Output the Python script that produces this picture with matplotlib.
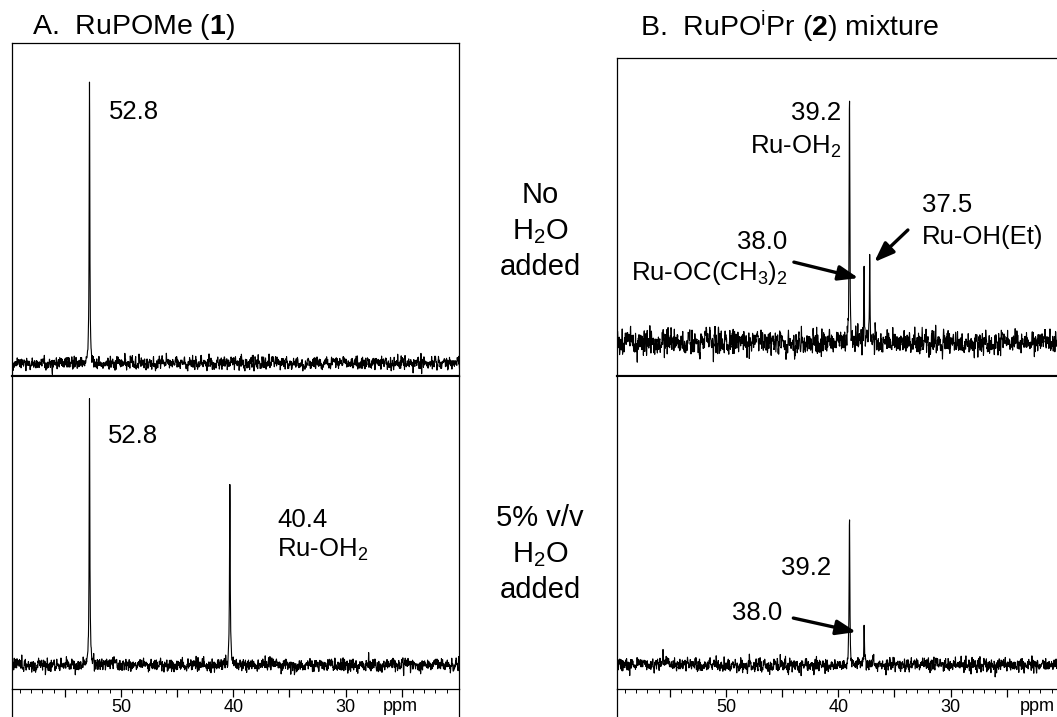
import numpy as np
import matplotlib
matplotlib.use("Agg")
import matplotlib.pyplot as plt

plt.rcParams['font.family'] = ['Liberation Sans', 'DejaVu Sans']
plt.rcParams['mathtext.fontset'] = 'custom'
plt.rcParams['mathtext.rm'] = 'Liberation Sans'
plt.rcParams['mathtext.it'] = 'Liberation Sans:italic'
plt.rcParams['mathtext.bf'] = 'Liberation Sans:bold'

# peak positions (ppm) and relative heights (tallest = 100) for each spectrum
a_dry_ppm = [52.8]
a_dry_height = [100]
a_wet_ppm = [52.8, 40.3]
a_wet_height = [100, 71]
b_dry_ppm = [39.0, 37.7, 37.2]
b_dry_height = [100, 31, 31]
b_wet_ppm = [39.0, 37.7, 55.6]
b_wet_height = [100, 25, 12]

# baseline noise level of each trace (same units as heights)
noise_level = {'a_dry': 1.1, 'a_wet': 1.2, 'b_dry': 2.4, 'b_wet': 2.2}

major_ticks = [55, 50, 45, 40, 35, 30, 25]
tick_labels = ['', '50', '', '40', '', '30', '']

W, H = 1057, 717
fig = plt.figure(figsize=(W / 100, H / 100), dpi=100)


def px_axes(x0, y0, x1, y1):
    return fig.add_axes([x0 / W, 1 - y1 / H, (x1 - x0) / W, (y1 - y0) / H])


ppm = np.linspace(60, 19.5, 2600)
rng = np.random.default_rng(7)


def trace(centers, heights, noise):
    y = np.zeros_like(ppm)
    for c, h in zip(centers, heights):
        y += h / (1 + ((ppm - c) / 0.035) ** 2)
    n = rng.normal(0, noise, ppm.size)
    n = np.convolve(n, [0.25, 0.5, 0.25], mode='same') * 1.6
    return y + n


def style(ax, ylim, bottom_axis=False):
    ax.set_xlim(59.7, 19.9)
    ax.set_ylim(*ylim)
    ax.set_yticks([])
    for s in ax.spines.values():
        s.set_linewidth(0.9)
    if bottom_axis:
        ax.set_xticks(major_ticks)
        ax.set_xticklabels(tick_labels, fontsize=13)
        ax.set_xticks(np.arange(21, 60, 1), minor=True)
        ax.tick_params(axis='x', which='major', direction='out', length=6, width=0.9, pad=1)
        ax.tick_params(axis='x', which='minor', direction='out', length=3, width=0.7)
        ax.spines['top'].set_linewidth(1.5)
    else:
        ax.set_xticks([])
        ax.spines['bottom'].set_linewidth(1.5)


def stub(x0, x1):
    ax = px_axes(x0, 689, x1, 730)
    ax.set_xticks([])
    ax.set_yticks([])
    ax.patch.set_alpha(0)
    ax.spines['top'].set_visible(False)
    ax.spines['bottom'].set_visible(False)
    for s in ('left', 'right'):
        ax.spines[s].set_linewidth(0.9)


lw = 0.8
fs = 18.5

# ---- A panel ----
ax1 = px_axes(12, 43, 459, 376)
ax1.plot(ppm, trace(a_dry_ppm, a_dry_height, noise_level['a_dry']), color='black', lw=lw)
style(ax1, (-4.5, 111.5))
ax1.text(51.07, 87.5, '52.8', fontsize=fs, va='center', ha='left')

ax2 = px_axes(12, 376, 459, 689)
ax2.plot(ppm, trace(a_wet_ppm, a_wet_height, noise_level['a_wet']), color='black', lw=lw)
style(ax2, (-9.2, 110.3), bottom_axis=True)
ax2.text(51.16, 87.4, '52.8', fontsize=fs, va='center', ha='left')
ax2.text(36.1, 55.3, '40.4', fontsize=fs, va='center', ha='left')
ax2.text(36.1, 44.0, 'Ru-OH$_2$', fontsize=fs, va='center', ha='left')
ax2.text(0.868, -0.055, 'ppm', transform=ax2.transAxes, fontsize=13, ha='center', va='center')
stub(12, 459)

# ---- B panel ----
ax3 = px_axes(617, 58, 1064, 376)
ax3.plot(ppm, trace(b_dry_ppm, b_dry_height, noise_level['b_dry']), color='black', lw=lw)
style(ax3, (-13.2, 110.5))
ax3.text(39.73, 89, '39.2', fontsize=fs, va='center', ha='right')
ax3.text(39.73, 76.0, 'Ru-OH$_2$', fontsize=fs, va='center', ha='right')
ax3.text(44.5, 39, '38.0', fontsize=fs, va='center', ha='right')
ax3.text(44.5, 27.0, 'Ru-OC(CH$_3$)$_2$', fontsize=fs, va='center', ha='right')
ax3.text(32.56, 53.3, '37.5', fontsize=fs, va='center', ha='left')
ax3.text(32.56, 41.0, 'Ru-OH(Et)', fontsize=fs, va='center', ha='left')
arrow = dict(arrowstyle='-|>,head_length=1.2,head_width=0.45', lw=2.4, color='black',
             shrinkA=0, shrinkB=0)
ax3.annotate('', xy=(38.2, 24.9), xytext=(43.95, 31.1), arrowprops=arrow)
ax3.annotate('', xy=(36.8, 31.1), xytext=(33.8, 43.6), arrowprops=arrow)

ax4 = px_axes(617, 376, 1064, 689)
ax4.plot(ppm, trace(b_wet_ppm, b_wet_height, noise_level['b_wet']), color='black', lw=lw)
style(ax4, (-16, 192.7), bottom_axis=True)
ax4.text(42.9, 64.7, '39.2', fontsize=fs, va='center', ha='center')
ax4.text(47.2, 34.7, '38.0', fontsize=fs, va='center', ha='center')
ax4.annotate('', xy=(38.4, 22), xytext=(44.0, 31.3), arrowprops=arrow)
ax4.text(0.94, -0.055, 'ppm', transform=ax4.transAxes, fontsize=13, ha='center', va='center')
stub(617, 1064)

# ---- titles and middle labels ----
fig.text(32 / W, 1 - 27 / H, r'A.  RuPOMe ($\mathbf{1}$)', fontsize=20.5, va='center', ha='left')
fig.text(640 / W, 1 - 27 / H, r'B.  RuPO$^{\mathrm{i}}$Pr ($\mathbf{2}$) mixture', fontsize=20.5,
         va='center', ha='left')

for y, s in zip([195, 232, 267], ['No', 'H$_2$O', 'added']):
    fig.text(540 / W, 1 - y / H, s, fontsize=21, ha='center', va='center')
for y, s in zip([518, 555, 590], ['5% v/v', 'H$_2$O', 'added']):
    fig.text(540 / W, 1 - y / H, s, fontsize=21, ha='center', va='center')

fig.savefig('out.png', dpi=100)
